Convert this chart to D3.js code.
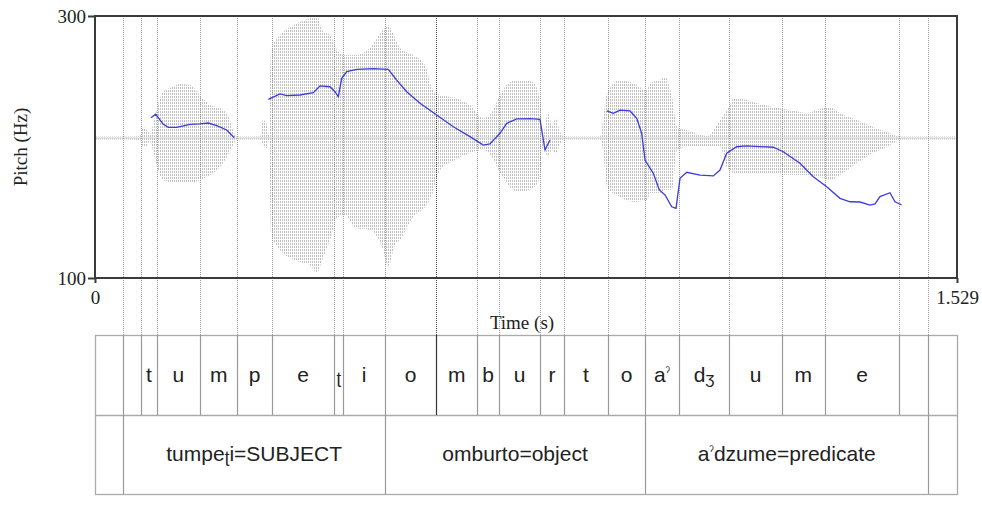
<!DOCTYPE html>
<html>
<head>
<meta charset="utf-8">
<script src="https://cdn.jsdelivr.net/npm/d3@7"></script>
<style>
  html, body { margin: 0; padding: 0; background: #fff; }
  svg { display: block; }
</style>
</head>
<body>
<svg id="chart" width="982" height="515"></svg>
<script>
// ---------- data ----------
const timeDomain = [0, 1.529];
const pitchDomain = [100, 300];
const pitchTicks = [100, 300];
const timeTicks = [0, 1.529];
const timeTickLabels = ["0", "1.529"];
const yTitle = "Pitch (Hz)";
const xTitle = "Time (s)";

// pitch contour (null = unvoiced gap)
const pitchTime = [0.0993,0.1077,0.1206,0.1300,0.1449,0.1685,0.1862,0.2010,0.2159,0.2336,0.2471,null,
  0.3074,0.3282,0.3400,0.3636,0.3872,0.3991,0.4168,0.4257,0.4316,0.4376,0.4465,0.4642,0.4937,0.5203,0.5351,0.5529,0.5765,0.6061,0.6356,0.6652,0.6888,0.7006,0.7184,0.7303,0.7480,0.7716,0.7893,0.7982,0.8071,null,
  0.9077,0.9194,0.9312,0.9490,0.9609,0.9697,0.9756,0.9903,1.0010,1.0111,1.0230,1.0306,1.0377,1.0496,1.0731,1.0968,1.1086,1.1205,1.1382,1.1560,1.2032,1.2209,1.2505,1.2741,1.2979,1.3215,1.3392,1.3570,1.3747,1.3836,1.3924,1.4101,1.4190,1.4309];
const pitchHz = [222.4,225.0,217.6,215.0,215.0,217.3,217.6,218.3,216.3,213.0,207.1,null,
  236.4,240.5,239.2,239.7,241.5,246.6,246.0,242.2,238.4,252.4,257.5,259.3,259.8,259.3,251.1,242.2,233.4,224.4,215.5,207.9,201.5,202.3,210.5,218.1,221.4,221.6,221.1,197.7,205.3,null,
  227.5,225.7,228.2,227.5,221.9,210.5,190.1,179.9,167.2,163.4,154.4,153.2,176.1,180.7,178.6,177.9,182.4,195.2,200.2,200.8,199.8,196.4,187.6,177.3,169.7,160.8,158.2,158.0,155.7,156.5,162.1,165.1,158.2,155.7];

// waveform envelope (relative amplitude)
const waveTime = [0,0.0621,0.0798,0.0851,0.0922,0.0976,0.1029,0.1117,0.1206,0.1330,0.1508,0.1685,0.1862,0.2040,0.2217,0.2359,0.2448,0.2519,
  0.2927,0.2980,0.3051,0.3086,0.3122,0.3282,0.3459,0.3636,0.3814,0.3938,0.4027,0.4168,0.4293,0.4435,0.4612,0.4878,0.5109,0.5197,0.5321,0.5410,0.5641,0.5854,0.5978,0.6120,0.6386,0.6652,0.6882,0.7042,0.7184,0.7361,0.7539,0.7769,0.7893,0.7947,0.8035,0.8106,0.8177,0.8248,0.8337,
  0.8958,0.9011,0.9082,0.9312,0.9543,0.9791,0.9844,1.0021,1.0111,1.0235,1.0324,1.0501,1.0856,1.1086,1.1210,1.1352,1.1742,1.2026,1.2328,1.2629,1.2913,1.3037,1.3215,1.3516,1.3800,1.4048,1.4226,1.4279,1.529];
const waveUpper = [0.01,0.01,0.015,0.079,0.057,0.029,0.093,0.236,0.329,0.357,0.386,0.379,0.307,0.236,0.214,0.164,0.057,0.01,
  0.01,0.129,0.093,0.014,0.629,0.736,0.793,0.829,0.857,0.871,0.771,0.736,0.629,0.593,0.593,0.643,0.771,0.807,0.714,0.643,0.593,0.521,0.357,0.307,0.286,0.236,0.143,0.186,0.307,0.400,0.414,0.400,0.271,0.021,0.186,0.093,0.143,0.043,0.01,
  0.01,0.129,0.321,0.414,0.393,0.343,0.393,0.414,0.436,0.293,0.079,0.057,0.014,0.129,0.200,0.286,0.250,0.221,0.200,0.179,0.214,0.221,0.179,0.129,0.079,0.043,0.014,0.01,0.01];
const waveLower = [-0.01,-0.01,-0.015,-0.064,-0.057,-0.021,-0.086,-0.229,-0.300,-0.314,-0.321,-0.321,-0.300,-0.264,-0.207,-0.121,-0.050,-0.01,
  -0.01,-0.050,-0.071,-0.014,-0.679,-0.800,-0.857,-0.886,-0.907,-0.964,-0.871,-0.729,-0.571,-0.550,-0.643,-0.657,-0.800,-0.921,-0.764,-0.729,-0.564,-0.493,-0.407,-0.229,-0.157,-0.107,-0.086,-0.136,-0.250,-0.350,-0.386,-0.357,-0.279,-0.064,-0.136,-0.086,-0.114,-0.043,-0.01,
  -0.01,-0.086,-0.350,-0.421,-0.457,-0.443,-0.393,-0.393,-0.371,-0.371,-0.086,-0.064,-0.064,-0.064,-0.207,-0.250,-0.250,-0.250,-0.264,-0.264,-0.286,-0.300,-0.264,-0.179,-0.107,-0.064,-0.021,-0.01,-0.01];

// TextGrid tier 1: phones
const phoneBounds = [0.0502,0.0816,0.1094,0.1862,0.2524,0.3134,0.4245,0.4404,0.5144,0.6049,0.6781,0.7166,0.7893,0.8319,0.9100,0.9756,1.0359,1.1251,1.2181,1.2949,1.4261,1.4781];
const phoneLabels = ["","","t","u","m","p","e","ʈ","i","o","m","b","u","r","t","o","aˀ","dʒ","u","m","e","",""];
// TextGrid tier 2: words
const wordBounds = [0.0502,0.5144,0.9756,1.4781];
const wordLabels = ["","tumpeʈi=SUBJECT","omburto=object","aˀdzume=predicate",""];

// ---------- layout ----------
const L = 95, R = 957, T = 16, B = 278;
const tgTop = 335, tgMid = 415, tgBot = 494;

const svg = d3.select("#chart");
const x = d3.scaleLinear().domain(timeDomain).range([L, R]);
const y = d3.scaleLinear().domain(pitchDomain).range([B, T]);
const amp = d3.scaleLinear().domain([-1, 1]).range([B, T - 18]);

// pattern for waveform
const defs = svg.append("defs");
const pat = defs.append("pattern").attr("id", "wavePat")
  .attr("patternUnits", "userSpaceOnUse").attr("width", 2).attr("height", 3);
pat.append("rect").attr("x", 0).attr("y", 0).attr("width", 1).attr("height", 2).attr("fill", "#8c8c8c");

// waveform
const waveData = waveTime.map((t, i) => ({t, u: waveUpper[i], l: waveLower[i]}));
svg.append("path").datum(waveData)
  .attr("d", d3.area().curve(d3.curveMonotoneX).x(d => x(d.t)).y0(d => amp(d.l)).y1(d => amp(d.u)))
  .attr("fill", "url(#wavePat)").attr("opacity", 0.55);
svg.append("line")
  .attr("x1", x(timeDomain[0])).attr("x2", x(timeDomain[1]))
  .attr("y1", amp(0)).attr("y2", amp(0))
  .attr("stroke", "#cfcfcf").attr("stroke-width", 1);

// boundary lines through plot to textgrid
const darkBound = 0.6049;
svg.append("g").selectAll("line").data(phoneBounds).join("line")
  .attr("x1", d => Math.round(x(d)) + 0.5).attr("x2", d => Math.round(x(d)) + 0.5)
  .attr("y1", T).attr("y2", tgTop)
  .attr("stroke", d => d === darkBound ? "#444" : "#999")
  .attr("stroke-dasharray", "1,1").attr("stroke-width", 1);

// pitch contour
const pitchData = pitchTime.map((t, i) => ({t, f: pitchHz[i]}));
svg.append("path").datum(pitchData)
  .attr("d", d3.line().defined(d => d.t !== null).x(d => x(d.t)).y(d => y(d.f)))
  .attr("fill", "none").attr("stroke", "#3c3cdc").attr("stroke-width", 1.3);

// frame
svg.append("rect").attr("x", L).attr("y", T).attr("width", R - L).attr("height", B - T)
  .attr("fill", "none").attr("stroke", "#3a3a3a").attr("stroke-width", 2);

// axes
const serif = "'Liberation Serif', 'Times New Roman', serif";
const yAxis = svg.append("g").attr("transform", `translate(${L},0)`)
  .call(d3.axisLeft(y).tickValues(pitchTicks).tickSize(7).tickPadding(2).tickFormat(d3.format("d")));
const xAxis = svg.append("g").attr("transform", `translate(0,${B})`)
  .call(d3.axisBottom(x).tickValues(timeTicks).tickSize(5).tickPadding(8).tickFormat((d, i) => timeTickLabels[i]));
[yAxis, xAxis].forEach(g => {
  g.select(".domain").remove();
  g.selectAll(".tick line").attr("stroke", "#3a3a3a").attr("stroke-width", 2);
  g.selectAll(".tick text").attr("font-family", serif).attr("font-size", 19).attr("fill", "#222");
});

svg.append("text").attr("transform", `translate(27,${(T + B) / 2}) rotate(-90)`)
  .attr("text-anchor", "middle").attr("font-family", serif).attr("font-size", 19).attr("fill", "#222")
  .text(yTitle);
svg.append("text").attr("x", (L + R) / 2 - 4).attr("y", 329)
  .attr("text-anchor", "middle").attr("font-family", serif).attr("font-size", 19).attr("fill", "#222")
  .text(xTitle);

// textgrid
const sans = "'Liberation Sans', Arial, sans-serif";
const tg = svg.append("g");
tg.append("rect").attr("x", L + 0.5).attr("y", tgTop + 0.5).attr("width", R - L).attr("height", tgBot - tgTop)
  .attr("fill", "none").attr("stroke", "#aaa").attr("stroke-width", 1.3);
tg.append("line").attr("x1", L).attr("x2", R).attr("y1", tgMid + 0.5).attr("y2", tgMid + 0.5)
  .attr("stroke", "#aaa").attr("stroke-width", 1.3);
tg.selectAll("line.pb").data(phoneBounds).join("line").attr("class", "pb")
  .attr("x1", d => Math.round(x(d)) + 0.5).attr("x2", d => Math.round(x(d)) + 0.5)
  .attr("y1", tgTop).attr("y2", tgMid)
  .attr("stroke", d => d === darkBound ? "#333" : "#999").attr("stroke-width", 1.2);
tg.selectAll("line.wb").data(wordBounds).join("line").attr("class", "wb")
  .attr("x1", d => Math.round(x(d)) + 0.5).attr("x2", d => Math.round(x(d)) + 0.5)
  .attr("y1", tgMid).attr("y2", tgBot)
  .attr("stroke", "#999").attr("stroke-width", 1.2);

// write a label with small IPA glyphs as tspans
const FS = 21;
function writeLabel(sel, str) {
  let shift = 0;
  for (const ch of Array.from(str)) {
    const ts = sel.append("tspan").text(ch);
    let s = 0;
    if (ch === "ˀ") { ts.attr("font-size", 13); s = -6; }
    else if (ch === "ʈ" || ch === "ʒ") { ts.attr("font-size", 17); s = 2; }
    ts.attr("dy", s - shift);
    shift = s;
  }
}

const phoneEdges = [timeDomain[0], ...phoneBounds, timeDomain[1]];
tg.selectAll("text.ph").data(phoneLabels).join("text").attr("class", "ph")
  .attr("x", (d, i) => (x(phoneEdges[i]) + x(phoneEdges[i + 1])) / 2)
  .attr("y", 382)
  .attr("text-anchor", "middle").attr("font-family", sans)
  .attr("font-size", FS).attr("fill", "#222")
  .each(function(d) { writeLabel(d3.select(this), d); });

const wordEdges = [timeDomain[0], ...wordBounds, timeDomain[1]];
tg.selectAll("text.wd").data(wordLabels).join("text").attr("class", "wd")
  .attr("x", (d, i) => (x(wordEdges[i]) + x(wordEdges[i + 1])) / 2)
  .attr("y", 461)
  .attr("text-anchor", "middle").attr("font-family", sans).attr("font-size", FS).attr("fill", "#222")
  .each(function(d) { writeLabel(d3.select(this), d); });
</script>
</body>
</html>
